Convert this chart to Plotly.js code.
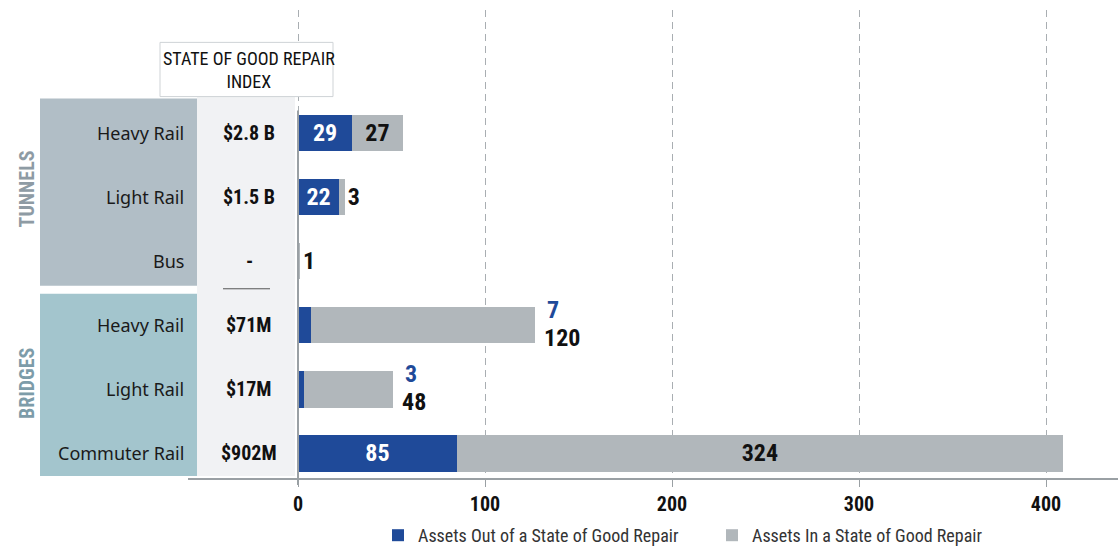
<!DOCTYPE html>
<html>
<head>
<meta charset="utf-8">
<script src="https://cdn.plot.ly/plotly-3.0.1.min.js"></script>
<style>html,body{margin:0;padding:0;background:#fff;}#chart{width:1118px;height:554px;}</style>
</head>
<body>
<div id="chart"></div>
<script>
// ---- data ----
const categories = ['Heavy Rail', 'Light Rail', 'Bus', 'Heavy Rail', 'Light Rail', 'Commuter Rail'];
const groupNames = ['TUNNELS', 'BRIDGES'];
const groupRows = [[0, 1, 2], [3, 4, 5]];
const sgrIndex = ['$2.8 B', '$1.5 B', '-', '$71M', '$17M', '$902M'];
const assetsOut = [29, 22, 0, 7, 3, 85];
const assetsIn = [27, 3, 1, 120, 48, 324];
const xTicks = [0, 100, 200, 300, 400];
const seriesNames = ['Assets Out of a State of Good Repair', 'Assets In a State of Good Repair'];
const headerText = 'STATE OF GOOD REPAIR<br>INDEX';

// ---- styles ----
const W = 1118, H = 554;
const px = x => x / W;
const py = y => 1 - y / H;
const COND = '"Liberation Sans Narrow", "Arial Narrow", "Roboto Condensed", "DejaVu Sans Condensed", sans-serif';
const SANS = '"Noto Sans", "Open Sans", sans-serif';
const BLUE = '#1f4a99', GRAY = '#b1b7bb';

const rows = categories.map((_, i) => i);

// label placement logic
const stacked = assetsOut.map(v => v > 0 && v < 15);
const blueText = assetsOut.map((v, i) => (v > 0 && !stacked[i]) ? String(v) : '');
const grayText = assetsIn.map((v, i) => stacked[i] ? '' : String(v));
const grayPos = assetsIn.map((v, i) => v >= 20 ? 'inside' : 'outside');

const traces = [
  {
    type: 'bar', orientation: 'h', name: seriesNames[0],
    y: rows, x: assetsOut, width: 0.57,
    marker: {color: BLUE},
    text: blueText, textposition: 'inside', insidetextanchor: 'middle',
    textangle: 0, constraintext: 'none',
    textfont: {family: COND, size: 24, color: '#ffffff', weight: 'bold'},
    hoverinfo: 'x'
  },
  {
    type: 'bar', orientation: 'h', name: seriesNames[1],
    y: rows, x: assetsIn, width: 0.57,
    marker: {color: GRAY},
    text: grayText, textposition: grayPos, insidetextanchor: 'middle',
    textangle: 0, constraintext: 'none', cliponaxis: false,
    insidetextfont: {family: COND, size: 24, color: '#111111', weight: 'bold'},
    outsidetextfont: {family: COND, size: 24, color: '#111111', weight: 'bold'},
    hoverinfo: 'x'
  }
];

const shapes = [
  // tunnels panel
  {type: 'rect', xref: 'paper', yref: 'paper', x0: px(40), x1: px(197), y0: py(290), y1: py(100),
   fillcolor: '#b1bec6', line: {width: 0}, layer: 'below'},
  // bridges panel
  {type: 'rect', xref: 'paper', yref: 'paper', x0: px(40), x1: px(197), y0: py(483), y1: py(298),
   fillcolor: '#a3c5cd', line: {width: 0}, layer: 'below'},
  // index column
  {type: 'rect', xref: 'paper', yref: 'paper', x0: px(197), x1: px(295), y0: py(483), y1: py(97),
   fillcolor: '#f1f2f4', line: {width: 0}, layer: 'below'},
  // separator under bus
  {type: 'line', xref: 'paper', yref: 'paper', x0: px(223), x1: px(270), y0: py(293), y1: py(293),
   line: {color: '#555', width: 1}},
  // header box
  {type: 'rect', xref: 'paper', yref: 'paper', x0: px(160), x1: px(333), y0: py(98), y1: py(43),
   fillcolor: '#ffffff', line: {color: '#cfd3d6', width: 1}},
  // zero line
  {type: 'line', xref: 'x', yref: 'paper', x0: 0, x1: 0, y0: py(492), y1: py(112),
   line: {color: '#9aa0a4', width: 2}}
];

const annotations = [];
annotations.push({xref: 'paper', yref: 'paper', x: px(249), y: py(71), text: headerText,
  showarrow: false, xanchor: 'center', yanchor: 'middle',
  font: {family: COND, size: 18, color: '#111'}});
const groupColors = ['#8e9ba4', '#7d9ca9'];
groupNames.forEach((g, k) => {
  const r = groupRows[k];
  annotations.push({xref: 'paper', yref: 'y', x: px(27), y: (r[0] + r[r.length - 1]) / 2 + (k === 0 ? -0.12 : -0.1),
    text: g, textangle: -90, showarrow: false, xanchor: 'center', yanchor: 'middle',
    font: {family: COND, size: 20, color: groupColors[k], weight: 'bold'}});
});
categories.forEach((c, i) => {
  annotations.push({xref: 'paper', yref: 'y', x: px(186), y: i, text: c, showarrow: false,
    xanchor: 'right', yanchor: 'middle', font: {family: SANS, size: 18, color: '#1a1a1a'}});
  annotations.push({xref: 'paper', yref: 'y', x: px(249), y: i, text: sgrIndex[i], showarrow: false,
    xanchor: 'center', yanchor: 'middle', font: {family: COND, size: 20, color: '#111', weight: 'bold'}});
  if (stacked[i]) {
    const total = assetsOut[i] + assetsIn[i];
    annotations.push({xref: 'x', yref: 'y', x: total, y: i, text: String(assetsOut[i]), showarrow: false,
      xanchor: 'left', yanchor: 'middle', xshift: 10, yshift: 15,
      font: {family: COND, size: 24, color: BLUE, weight: 'bold'}});
    annotations.push({xref: 'x', yref: 'y', x: total, y: i, text: String(assetsIn[i]), showarrow: false,
      xanchor: 'left', yanchor: 'middle', xshift: 7, yshift: -13,
      font: {family: COND, size: 24, color: '#111', weight: 'bold'}});
  }
});

const layout = {
  width: W, height: H,
  margin: {l: 0, r: 0, t: 0, b: 0},
  paper_bgcolor: '#ffffff', plot_bgcolor: 'rgba(0,0,0,0)',
  barmode: 'stack',
  showlegend: true,
  legend: {orientation: 'h', x: px(378), y: py(525), xanchor: 'left', yanchor: 'top',
    font: {family: COND, size: 18, color: '#333'}, traceorder: 'normal',
    itemwidth: 30, entrywidth: 289, bgcolor: 'rgba(0,0,0,0)'},
  xaxis: {
    domain: [px(188), 1],
    range: [(188 - 298) / 1.87, (1118 - 298) / 1.87],
    tickvals: xTicks, ticktext: xTicks.map(String),
    showgrid: true, gridcolor: '#a9aeb2', griddash: '7px,5px', gridwidth: 1,
    zeroline: false,
    showline: true, linecolor: '#9aa0a4', linewidth: 2,
    ticks: 'outside', ticklen: 7, tickcolor: '#9aa0a4', tickwidth: 1,
    tickfont: {family: COND, size: 20, color: '#111', weight: 'bold'},
    fixedrange: true
  },
  yaxis: {
    domain: [py(485), py(10)],
    range: [5 + 25 / 65, -125 / 65],
    showticklabels: false, showgrid: false, zeroline: false, showline: false,
    ticks: '', fixedrange: true
  },
  shapes: shapes,
  annotations: annotations
};

Plotly.newPlot('chart', traces, layout, {displayModeBar: false, staticPlot: true});
</script>
</body>
</html>
